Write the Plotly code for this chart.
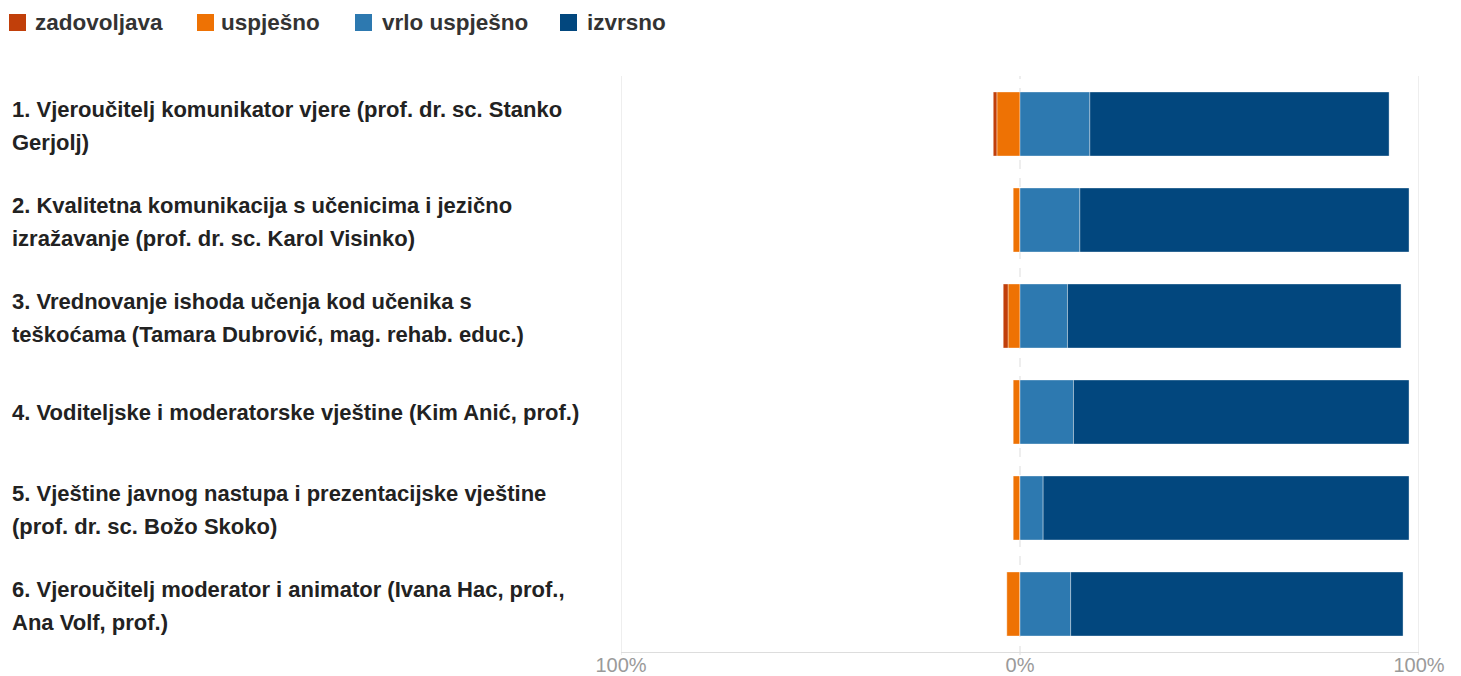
import plotly.graph_objects as go

categories = [
    "1. Vjeroučitelj komunikator vjere (prof. dr. sc. Stanko<br>Gerjolj)",
    "2. Kvalitetna komunikacija s učenicima i jezično<br>izražavanje (prof. dr. sc. Karol Visinko)",
    "3. Vrednovanje ishoda učenja kod učenika s<br>teškoćama (Tamara Dubrović, mag. rehab. educ.)",
    "4. Voditeljske i moderatorske vještine (Kim Anić, prof.)",
    "5. Vještine javnog nastupa i prezentacijske vještine<br>(prof. dr. sc. Božo Skoko)",
    "6. Vjeroučitelj moderator i animator (Ivana Hac, prof.,<br>Ana Volf, prof.)",
]
series_names = ["zadovoljava", "uspješno", "vrlo uspješno", "izvrsno"]
zadovoljava = [0.9, 0.0, 1.2, 0.0, 0.0, 0.0]
uspjesno = [5.8, 1.7, 3.0, 1.7, 1.7, 3.3]
vrlo_uspjesno = [17.5, 15.0, 11.9, 13.4, 5.8, 12.7]
izvrsno = [75.0, 82.5, 83.6, 84.1, 91.7, 83.3]
tick_vals = [-100, 0, 100]
tick_text = ["100%", "0%", "100%"]
colors = ["#C13F0A", "#EE7204", "#2D79B0", "#02477E"]

# page has an 8px body margin; work in figure pixel coordinates
OFF = 8
W, H = 1461 - OFF, 676 - OFF
L, R = 621 - OFF, 1419 - OFF
T, B = 76 - OFF, 652 - OFF
PW, PH = R - L, B - T


def px_x(x):  # page x -> paper
    return (x - OFF - L) / PW


def px_y(y):  # page y -> paper
    return (B - (y - OFF)) / PH


fig = go.Figure()
line = dict(width=0.6, color="rgba(255,255,255,0.6)")
fig.add_trace(go.Bar(y=categories, x=[-v for v in uspjesno], orientation="h", name=series_names[1],
                     marker=dict(color=colors[1], line=line)))
fig.add_trace(go.Bar(y=categories, x=[-v for v in zadovoljava], orientation="h", name=series_names[0],
                     marker=dict(color=colors[0], line=line)))
fig.add_trace(go.Bar(y=categories, x=vrlo_uspjesno, orientation="h", name=series_names[2],
                     marker=dict(color=colors[2], line=line)))
fig.add_trace(go.Bar(y=categories, x=izvrsno, orientation="h", name=series_names[3],
                     marker=dict(color=colors[3], line=line)))

shapes = []
for v in tick_vals:
    shapes.append(dict(type="line", xref="x", yref="paper", x0=v, x1=v, y0=-0.005, y1=1.0,
                       line=dict(color="#e3e3e3", width=1.2, dash="dash" if v == 0 else "solid"),
                       layer="below"))

annotations = []
label_font = dict(family="Liberation Sans, Arial", size=22, color="#222222", weight="bold")
for cat in categories:
    lines = cat.split("<br>")
    shifts = [0] if len(lines) == 1 else [15, -18]
    for t, s in zip(lines, shifts):
        annotations.append(dict(
            text=t, xref="paper", yref="y", x=px_x(10), y=cat,
            xanchor="left", yanchor="middle", showarrow=False, align="left",
            yshift=s, font=label_font,
        ))

# legend drawn manually (square swatches + bold labels)
legend_sq_x = [9, 197, 355, 560]
legend_txt_x = [33, 219, 380, 585]
for name, col, sx, tx in zip(series_names, colors, legend_sq_x, legend_txt_x):
    shapes.append(dict(type="rect", xref="paper", yref="paper",
                       x0=px_x(sx), x1=px_x(sx + 17), y0=px_y(31), y1=px_y(14),
                       fillcolor=col, line=dict(width=0)))
    annotations.append(dict(text=name, xref="paper", yref="paper", x=px_x(tx), y=px_y(22),
                            xanchor="left", yanchor="middle", showarrow=False,
                            font=dict(family="Liberation Sans, Arial", size=22.5,
                                      color="#333333", weight="bold")))

fig.update_layout(
    width=W, height=H,
    margin=dict(l=L, r=W - R, t=T, b=H - B, autoexpand=False),
    barmode="relative", bargap=0.333,
    plot_bgcolor="white", paper_bgcolor="white",
    shapes=shapes, annotations=annotations,
    showlegend=False,
    xaxis=dict(range=[-100, 100], tickvals=tick_vals, ticktext=tick_text, showgrid=False,
               zeroline=False, showline=True, linecolor="#dddddd", linewidth=1,
               tickfont=dict(family="Liberation Sans, Arial", size=20, color="#9a9a9a"),
               ticks="", ticklen=0, ticklabelstandoff=-5, automargin=False),
    yaxis=dict(autorange="reversed", showticklabels=False, showgrid=False, zeroline=False,
               automargin=False),
)
fig.write_html("out.html")
